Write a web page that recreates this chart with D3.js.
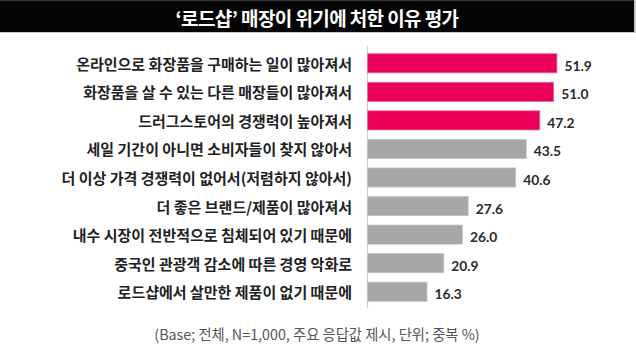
<!DOCTYPE html>
<html>
<head>
<meta charset="utf-8">
<script src="https://cdn.jsdelivr.net/npm/d3@7"></script>
<style>
  html, body { margin: 0; padding: 0; background: #fff; }
  svg { display: block; }
</style>
</head>
<body>
<svg id="chart" width="636" height="350"></svg>
<script>
// Reasons road-shop cosmetics stores are in crisis (multiple response, %)
const titleText = "‘로드샵’ 매장이 위기에 처한 이유 평가";
const footnote = "(Base; 전체, N=1,000, 주요 응답값 제시, 단위; 중복 %)";

const categories = [
  "온라인으로 화장품을 구매하는 일이 많아져서",
  "화장품을 살 수 있는 다른 매장들이 많아져서",
  "드러그스토어의 경쟁력이 높아져서",
  "세일 기간이 아니면 소비자들이 찾지 않아서",
  "더 이상 가격 경쟁력이 없어서(저렴하지 않아서)",
  "더 좋은 브랜드/제품이 많아져서",
  "내수 시장이 전반적으로 침체되어 있기 때문에",
  "중국인 관광객 감소에 따른 경영 악화로",
  "로드샵에서 살만한 제품이 없기 때문에"
];
const values = [51.9, 51.0, 47.2, 43.5, 40.6, 27.6, 26.0, 20.9, 16.3];
const highlighted = [true, true, true, false, false, false, false, false, false];

const W = 636, H = 350;
const svg = d3.select("#chart");

// Title band
svg.append("rect").attr("x", 0).attr("y", 0).attr("width", W).attr("height", 33).attr("fill", "#c8c8c8");
svg.append("rect").attr("x", 0).attr("y", 0).attr("width", 634).attr("height", 32).attr("fill", "#050505");
svg.append("rect").attr("x", 0).attr("y", 0).attr("width", 634).attr("height", 1).attr("fill", "#333");
svg.append("text")
  .attr("x", 317).attr("y", 17)
  .attr("text-anchor", "middle").attr("dominant-baseline", "central")
  .attr("fill", "#fff")
  .style("font-family", "'Noto Sans CJK KR', sans-serif")
  .style("font-weight", 700)
  .style("font-size", "19px")
  .style("letter-spacing", "-0.6px")
  .text(titleText);

// Scales
const x0 = 367;
const x = d3.scaleLinear().domain([0, 10]).range([x0, x0 + 36.5]);
const y = d3.scaleBand().domain(categories).range([49, 306]).paddingInner(0.33).paddingOuter(0.165);

// Axis (baseline only, labels drawn separately)
const yAxis = d3.axisLeft(y).tickSize(0).tickFormat("");
const axisG = svg.append("g").attr("transform", `translate(${x0},0)`).call(yAxis);
axisG.select(".domain").attr("stroke", "#cfcfcf").attr("stroke-width", 1.2)
  .attr("d", `M0.5,46V308`);

// Bars
svg.append("g").selectAll("rect")
  .data(categories)
  .join("rect")
  .attr("x", x(0) + 0.5)
  .attr("y", d => y(d))
  .attr("width", (d, i) => x(values[i]) - x(0))
  .attr("height", y.bandwidth())
  .attr("fill", (d, i) => highlighted[i] ? "#e8005a" : "#a7a7a7")
  .attr("stroke", (d, i) => highlighted[i] ? "#f46a9c" : "#c4c4c4")
  .attr("stroke-width", 0.8);

// Category labels
svg.append("g").selectAll("text")
  .data(categories)
  .join("text")
  .attr("x", 352)
  .attr("y", d => y(d) + y.bandwidth() / 2)
  .attr("text-anchor", "end").attr("dominant-baseline", "central")
  .attr("fill", "#222")
  .style("font-family", "'Noto Sans CJK KR', sans-serif")
  .style("font-weight", 700)
  .style("font-size", "15px")
  .style("letter-spacing", "0px")
  .text(d => d);

// Value labels
svg.append("g").selectAll("text")
  .data(categories)
  .join("text")
  .attr("x", (d, i) => x(values[i]) + 8)
  .attr("y", d => y(d) + y.bandwidth() / 2 + 2)
  .attr("dominant-baseline", "central")
  .attr("fill", "#2a2a2a")
  .style("font-family", "Lato, sans-serif")
  .style("font-weight", 700)
  .style("font-size", "13.8px")
  .text((d, i) => values[i].toFixed(1));

// Footnote
svg.append("text")
  .attr("x", 317).attr("y", 333)
  .attr("text-anchor", "middle").attr("dominant-baseline", "central")
  .attr("fill", "#555")
  .style("font-family", "'Noto Sans CJK KR', sans-serif")
  .style("font-size", "14.3px")
  .style("letter-spacing", "0px")
  .text(footnote);
</script>
</body>
</html>
